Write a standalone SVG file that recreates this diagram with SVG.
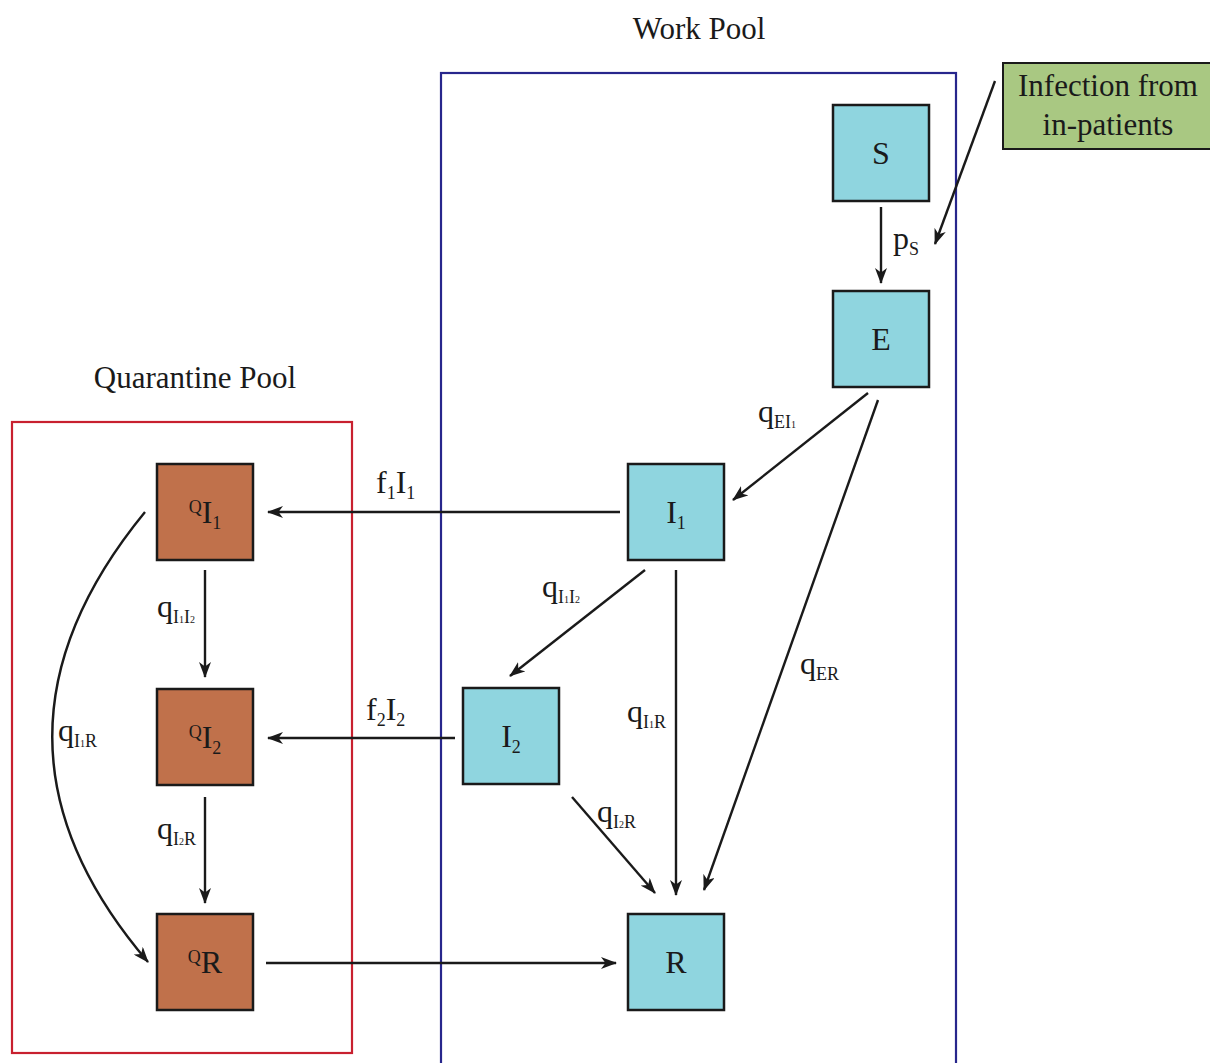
<svg xmlns="http://www.w3.org/2000/svg" width="1210" height="1063" viewBox="0 0 1210 1063">
<style>
text{font-family:"Liberation Serif","Times New Roman",serif;fill:#1a1a1a}
.node{stroke:#1a1a1a;stroke-width:2.5}
.w{fill:#8fd5df}
.q{fill:#c0714b}
.n{font-size:32px;text-anchor:middle}
.t{font-size:31px;text-anchor:middle}
.l{font-size:32px}
.s{font-size:18px}
.c{stroke:#1a1a1a;stroke-width:2.4;fill:none;marker-end:url(#ah)}
</style>
<defs>
<marker id="ah" viewBox="0 0 16 12" refX="15" refY="6" markerWidth="16" markerHeight="12" markerUnits="userSpaceOnUse" orient="auto">
<path d="M0,0 L16,6 L0,12 L4.5,6 z" fill="#1a1a1a"/>
</marker>
</defs>
<rect width="1210" height="1063" fill="#fff"/>
<g id="work-pool">
<rect x="441" y="73" width="515" height="1000" fill="none" stroke="#27268c" stroke-width="2.2"/>
<text class="t" x="699" y="39">Work Pool</text>
</g>
<g id="quarantine-pool">
<rect x="12" y="422" width="340" height="631" fill="none" stroke="#c8202f" stroke-width="2.2"/>
<text class="t" x="195" y="388">Quarantine Pool</text>
</g>
<g id="infection">
<rect x="1003" y="63" width="210" height="86" fill="#a9c882" stroke="#1a1a1a" stroke-width="2"/>
<text class="t" x="1108" y="96">Infection from</text>
<text class="t" x="1108" y="135">in-patients</text>
</g>
<g id="S"><rect class="node w" x="833" y="105" width="96" height="96"/><text class="n" x="881" y="164">S</text></g>
<g id="E"><rect class="node w" x="833" y="291" width="96" height="96"/><text class="n" x="881" y="350">E</text></g>
<g id="I1"><rect class="node w" x="628" y="464" width="96" height="96"/><text class="n" x="676" y="523">I<tspan class="s" dy="6">1</tspan></text></g>
<g id="I2"><rect class="node w" x="463" y="688" width="96" height="96"/><text class="n" x="511" y="747">I<tspan class="s" dy="6">2</tspan></text></g>
<g id="R"><rect class="node w" x="628" y="914" width="96" height="96"/><text class="n" x="676" y="973">R</text></g>
<g id="QI1"><rect class="node q" x="157" y="464" width="96" height="96"/><text class="n" x="205" y="523"><tspan class="s" dy="-10">Q</tspan><tspan dy="10">I</tspan><tspan class="s" dy="6">1</tspan></text></g>
<g id="QI2"><rect class="node q" x="157" y="689" width="96" height="96"/><text class="n" x="205" y="748"><tspan class="s" dy="-10">Q</tspan><tspan dy="10">I</tspan><tspan class="s" dy="6">2</tspan></text></g>
<g id="QR"><rect class="node q" x="157" y="914" width="96" height="96"/><text class="n" x="205" y="973"><tspan class="s" dy="-10">Q</tspan><tspan dy="10">R</tspan></text></g>
<g id="connectors">
<line class="c" x1="881" y1="207" x2="881" y2="283"/>
<line class="c" x1="995" y1="81" x2="935" y2="244"/>
<line class="c" x1="868" y1="393" x2="733" y2="500"/>
<line class="c" x1="878" y1="400" x2="704" y2="890"/>
<line class="c" x1="645" y1="570" x2="510" y2="676"/>
<line class="c" x1="676" y1="570" x2="676" y2="895"/>
<line class="c" x1="572" y1="797" x2="655" y2="893"/>
<line class="c" x1="620" y1="512" x2="268" y2="512"/>
<line class="c" x1="455" y1="738" x2="268" y2="738"/>
<line class="c" x1="266" y1="963" x2="616" y2="963"/>
<line class="c" x1="205" y1="570" x2="205" y2="677"/>
<line class="c" x1="205" y1="797" x2="205" y2="903"/>
<path class="c" d="M145,512 Q-42,740 148,962"/>
</g>
<g id="labels">
<text class="l" x="893" y="249">p<tspan class="s" dy="6">S</tspan></text>
<text class="l" x="758" y="422">q<tspan class="s" dy="6">EI</tspan><tspan style="font-size:10px" dy="0">1</tspan></text>
<text class="l" x="800" y="674">q<tspan class="s" dy="6">ER</tspan></text>
<text class="l" x="542" y="597">q<tspan class="s" dy="6">I</tspan><tspan style="font-size:10px">1</tspan><tspan class="s">I</tspan><tspan style="font-size:10px">2</tspan></text>
<text class="l" x="627" y="722">q<tspan class="s" dy="6">I</tspan><tspan style="font-size:10px">1</tspan><tspan class="s">R</tspan></text>
<text class="l" x="597" y="822">q<tspan class="s" dy="6">I</tspan><tspan style="font-size:10px">2</tspan><tspan class="s">R</tspan></text>
<text class="l" x="376" y="493">f<tspan class="s" dy="6">1</tspan><tspan dy="-6">I</tspan><tspan class="s" dy="6">1</tspan></text>
<text class="l" x="366" y="720">f<tspan class="s" dy="6">2</tspan><tspan dy="-6">I</tspan><tspan class="s" dy="6">2</tspan></text>
<text class="l" x="157" y="617">q<tspan class="s" dy="6">I</tspan><tspan style="font-size:10px">1</tspan><tspan class="s">I</tspan><tspan style="font-size:10px">2</tspan></text>
<text class="l" x="157" y="839">q<tspan class="s" dy="6">I</tspan><tspan style="font-size:10px">2</tspan><tspan class="s">R</tspan></text>
<text class="l" x="58" y="741">q<tspan class="s" dy="6">I</tspan><tspan style="font-size:10px">1</tspan><tspan class="s">R</tspan></text>
</g>
</svg>
